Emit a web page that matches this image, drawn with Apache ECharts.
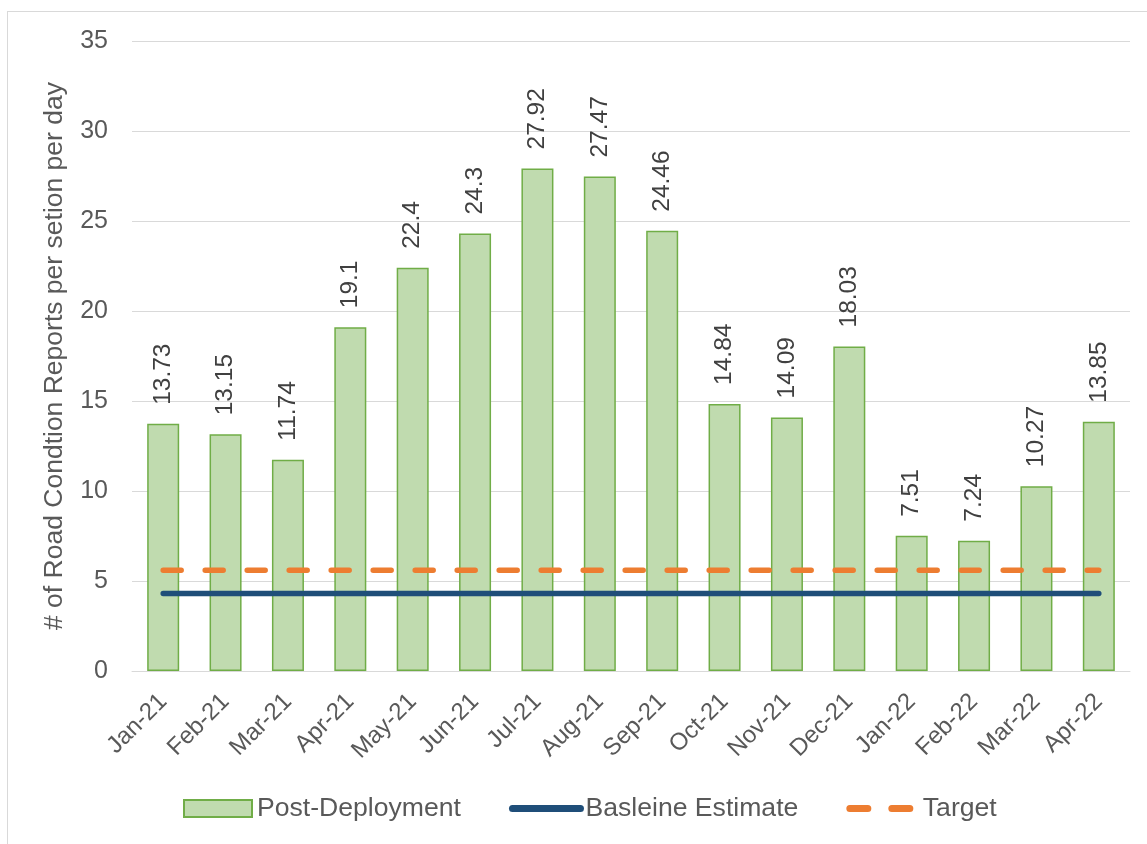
<!DOCTYPE html>
<html>
<head>
<meta charset="utf-8">
<script src="https://cdn.jsdelivr.net/npm/echarts@6/dist/echarts.min.js"></script>
<style>
  html, body { margin: 0; padding: 0; background: #fff; overflow: hidden; }
  #frame { position: absolute; left: 7px; top: 11px; width: 1200px; height: 900px; border: 1px solid #d9d9d9; box-sizing: border-box; }
  #chart { position: absolute; left: 0; top: 0; width: 1147px; height: 844px; }
</style>
</head>
<body>
<div id="frame"></div>
<div id="chart"></div>
<script>
// Monthly road condition reports per section per day
const months = ['Jan-21', 'Feb-21', 'Mar-21', 'Apr-21', 'May-21', 'Jun-21', 'Jul-21', 'Aug-21',
  'Sep-21', 'Oct-21', 'Nov-21', 'Dec-21', 'Jan-22', 'Feb-22', 'Mar-22', 'Apr-22'];
const postDeployment = [13.73, 13.15, 11.74, 19.1, 22.4, 24.3, 27.92, 27.47,
  24.46, 14.84, 14.09, 18.03, 7.51, 7.24, 10.27, 13.85];
const baselineEstimate = 4.3;
const target = 5.6;

const font = 'Liberation Sans, Arial, sans-serif';
const chart = echarts.init(document.getElementById('chart'));

chart.setOption({
  animation: false,
  textStyle: { fontFamily: font },
  grid: { left: 132, right: 17, top: 41, bottom: 173, containLabel: false },
  legend: {
    top: 795,
    left: 183,
    padding: 0,
    itemWidth: 68,
    itemHeight: 17,
    itemGap: 48,
    textStyle: { fontSize: 26.6, color: '#595959', fontFamily: font },
    data: [
      { name: 'Post-Deployment', icon: 'rect' },
      { name: 'Basleine Estimate', itemStyle: { opacity: 0 }, lineStyle: { width: 7 } },
      { name: 'Target', itemStyle: { opacity: 0 }, lineStyle: { width: 7 } }
    ]
  },
  xAxis: {
    type: 'category',
    data: months,
    boundaryGap: true,
    axisLine: { show: true, lineStyle: { color: '#d9d9d9', width: 1 } },
    axisTick: { show: false },
    axisLabel: { rotate: 45, fontSize: 24, color: '#595959', margin: 27, interval: 0, fontFamily: font }
  },
  yAxis: {
    type: 'value',
    min: 0,
    max: 35,
    interval: 5,
    name: '# of Road Condtion Reports per setion per day',
    nameLocation: 'middle',
    nameGap: 64,
    nameRotate: 90,
    nameTextStyle: { fontSize: 26.5, color: '#595959', fontFamily: font },
    axisLine: { show: false },
    axisTick: { show: false },
    axisLabel: { fontSize: 25, color: '#595959', margin: 24, fontFamily: font },
    splitLine: { lineStyle: { color: '#d9d9d9', width: 1 } }
  },
  series: [
    {
      name: 'Post-Deployment',
      type: 'bar',
      data: postDeployment,
      barWidth: 32,
      itemStyle: { color: '#c0dbaf', borderColor: '#70ad47', borderWidth: 1.5 },
      label: {
        show: true,
        position: 'top',
        rotate: 90,
        align: 'left',
        verticalAlign: 'middle',
        distance: 19,
        fontSize: 24.5,
        color: '#404040',
        fontFamily: font
      },
      z: 2
    },
    {
      name: 'Basleine Estimate',
      type: 'line',
      data: months.map(() => baselineEstimate),
      symbol: 'none',
      itemStyle: { color: '#1f4e79' },
      lineStyle: { color: '#1f4e79', width: 5.5, cap: 'round' },
      z: 3
    },
    {
      name: 'Target',
      type: 'line',
      data: months.map(() => target),
      symbol: 'none',
      itemStyle: { color: '#ed7d31' },
      lineStyle: { color: '#ed7d31', width: 5.5, type: [18, 24], cap: 'round' },
      z: 4
    }
  ]
});
</script>
</body>
</html>
